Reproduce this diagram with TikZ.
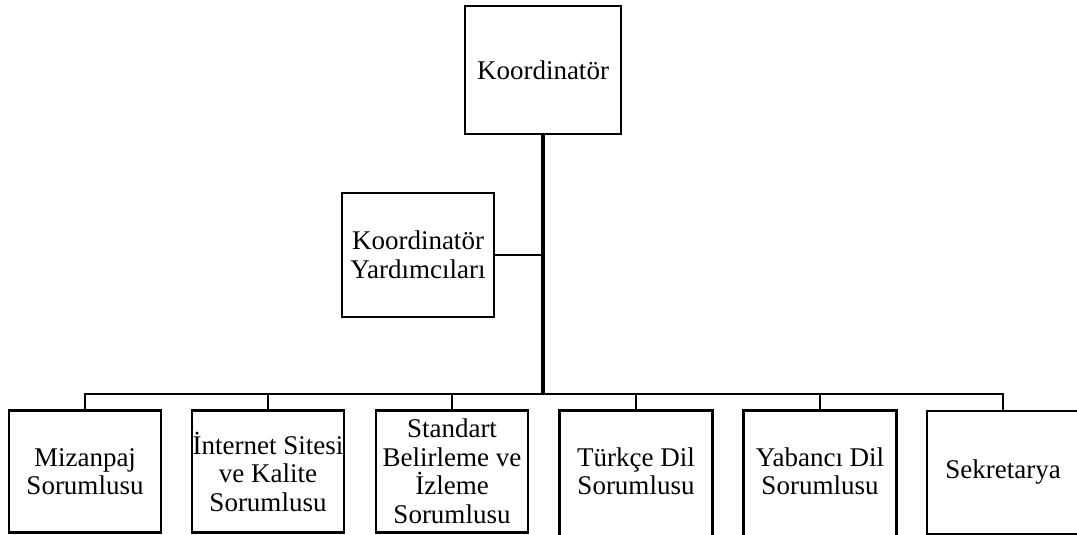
\documentclass[tikz,border=0pt]{standalone}
\usepackage{fontspec}
\setmainfont{Liberation Serif}
\begin{document}
\begin{tikzpicture}[x=1pt,y=-1pt,
  txt/.style={font=\fontsize{27}{28.5}\selectfont, align=center, inner sep=0pt},
  box/.style={txt, draw, line width=2.7pt, minimum width=152pt, minimum height=122pt},
  openbox/.style={txt, minimum width=152pt, minimum height=122pt},
  link/.style={line width=2.7pt},
  trunk/.style={line width=4pt}]
\useasboundingbox (0,0) rectangle (1077,535);
\node[box, minimum width=156pt, minimum height=128pt] (top) at (543,70) {Koordinatör};
\node[box, minimum height=124pt] (mid) at (418,255) {Koordinatör\\Yardımcıları};
\node[box] (b1) at (85,471.5) {Mizanpaj\\Sorumlusu};
\node[box] (b2) at (268,471.5) {İnternet Sitesi\\ve Kalite\\Sorumlusu};
\node[box] (b3) at (452,471.5) {Standart\\Belirleme ve\\İzleme\\Sorumlusu};
\node[openbox] (b4) at (636,471.5) {Türkçe Dil\\Sorumlusu};
\node[openbox] (b5) at (820,471.5) {Yabancı Dil\\Sorumlusu};
\node[box, minimum height=123pt] (b6) at (1003,472.5) {Sekretarya};
\draw[link] ([yshift=-12pt]b4.south west) -- (b4.north west) -- (b4.north east) -- ([yshift=-12pt]b4.south east);
\draw[link] ([yshift=-12pt]b5.south west) -- (b5.north west) -- (b5.north east) -- ([yshift=-12pt]b5.south east);
\coordinate (bus) at (543,394);
\draw[trunk] (top.south) -- (bus);
\draw[link] (mid.east) -- (mid.east -| top.south);
\draw[link] (b1.north) |- (bus);
\draw[link] (b6.north) |- (bus);
\draw[link] (b2.north) -- (b2.north |- bus);
\draw[link] (b3.north) -- (b3.north |- bus);
\draw[link] (b4.north) -- (b4.north |- bus);
\draw[link] (b5.north) -- (b5.north |- bus);
\end{tikzpicture}
\end{document}
